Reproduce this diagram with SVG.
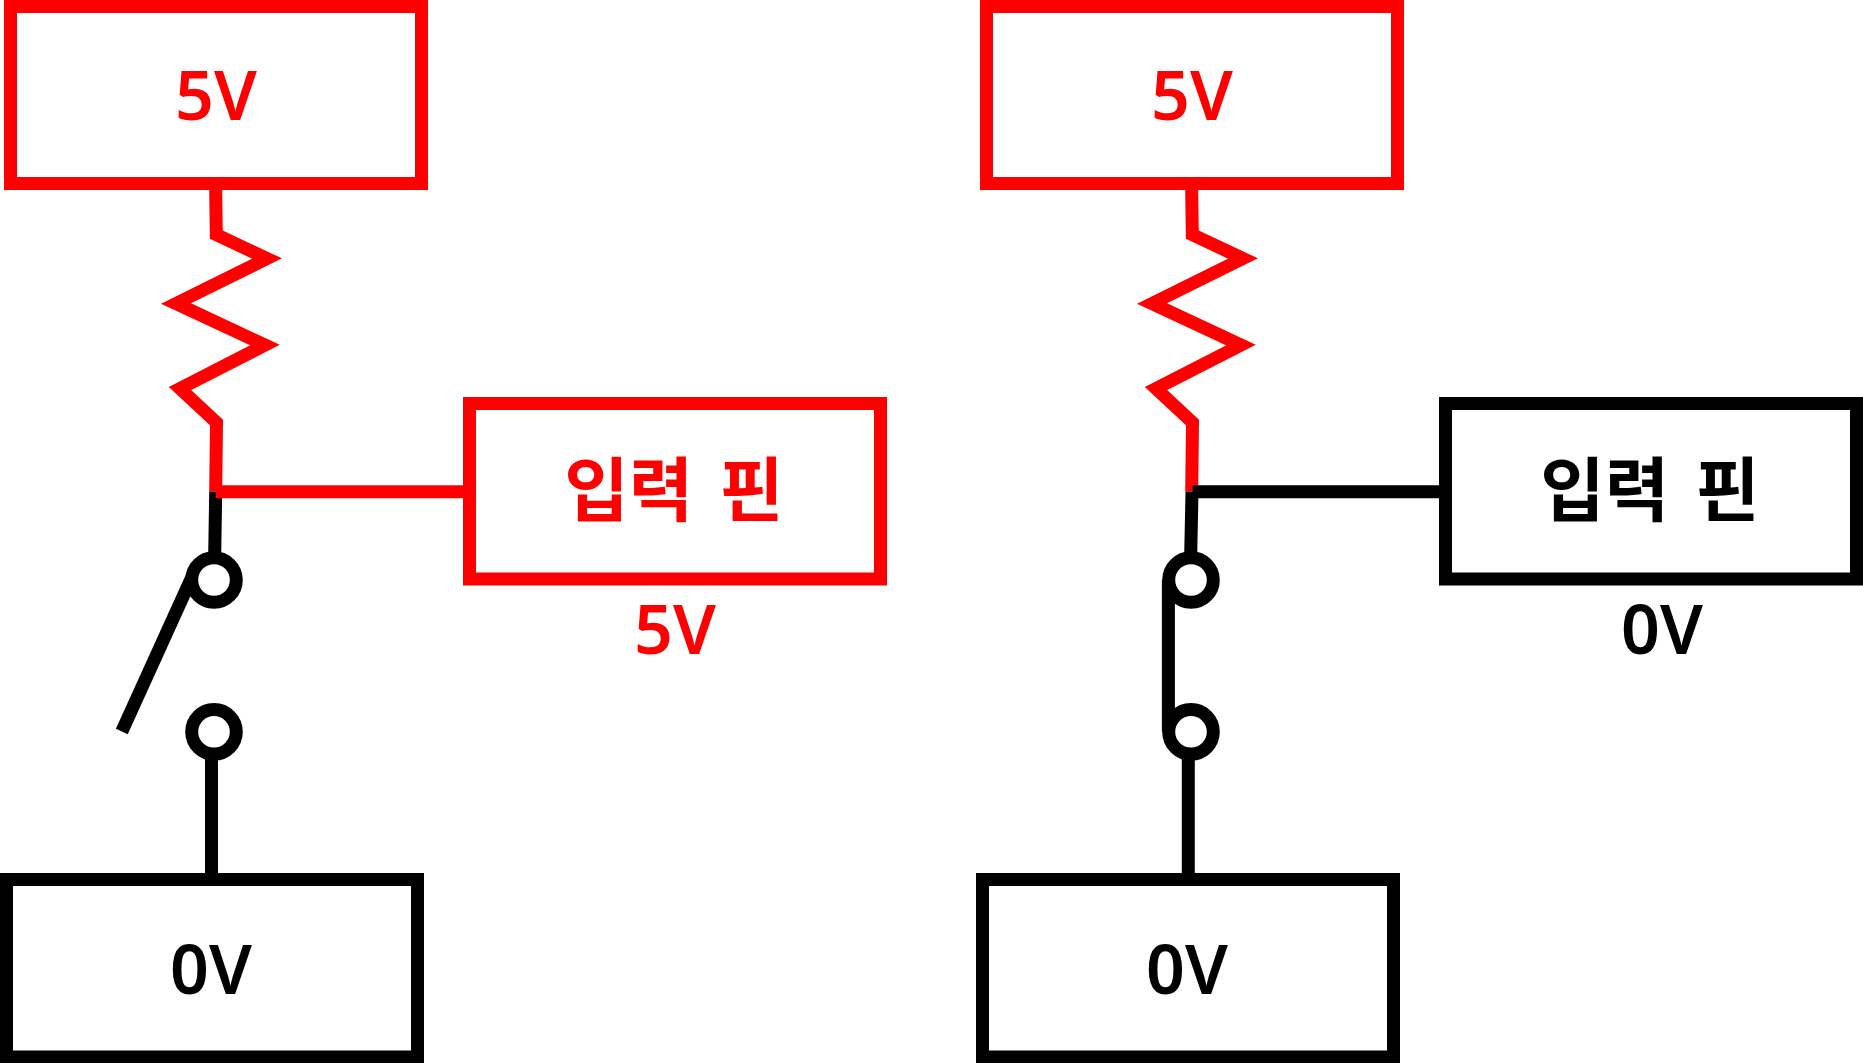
<svg xmlns="http://www.w3.org/2000/svg" width="1863" height="1063" viewBox="0 0 1863 1063">
<style>
.box{fill:#fff;stroke-width:13}
.r{stroke:#f00}.k{stroke:#000}
.w{fill:none;stroke-width:13;stroke-linecap:butt;stroke-linejoin:miter;stroke-miterlimit:10}
.t{stroke:#000;fill:#fff;stroke-width:13}
text{font-family:"Noto Sans","Noto Sans CJK KR",sans-serif;font-weight:650;font-size:68px;text-anchor:middle}
.ko{font-size:70px;word-spacing:8px}
.fr{fill:#f00}.fk{fill:#000}
</style>
<rect width="1863" height="1063" fill="#fff"/>
<g id="connectors">
<path class="w r" d="M215.7 190L216.3 234.7L267 258.5L176 303.5L265 345L180 388.5L216.5 422.5L215.7 491.7"/>
<path class="w k" d="M215.7 491.7L214.7 555"/>
<path class="w r" d="M215.7 491.7H464"/>
<path class="w k" d="M211.5 755V873"/>
<path class="w r" d="M1191.7 190L1192.3 234.7L1243 258.5L1152 303.5L1241 345L1156 388.5L1192.5 422.5L1191.7 491.7"/>
<path class="w k" d="M1192 491.7L1190.7 555"/>
<path class="w k" d="M1192.7 491.7H1440"/>
<path class="w k" d="M1188.3 755V873"/>
</g>
<g id="supply-5v-a"><rect class="box r" x="10.5" y="6.5" width="411" height="177"/><text class="fr" x="216" y="120">5V</text></g>
<g id="ground-0v-a"><rect class="box k" x="6.5" y="879.5" width="411" height="177.5"/><text class="fk" x="211" y="993.5">0V</text></g>
<g id="input-pin-a"><rect class="box r" x="469.5" y="403.5" width="411" height="175.5"/><text class="ko fr" x="674" y="516">입력 핀</text></g>
<g id="label-5v"><text class="fr" x="675" y="653.5">5V</text></g>
<g id="switch-a"><circle class="t" cx="214" cy="580" r="22.3"/><circle class="t" cx="214" cy="731.8" r="22.3"/><path class="w k" d="M121.8 731.5L191.5 578"/></g>
<g id="supply-5v-b"><rect class="box r" x="986.5" y="6.5" width="411" height="177"/><text class="fr" x="1192" y="120">5V</text></g>
<g id="ground-0v-b"><rect class="box k" x="982.5" y="879.5" width="411" height="177.5"/><text class="fk" x="1187" y="993.5">0V</text></g>
<g id="input-pin-b"><rect class="box k" x="1445.5" y="403.5" width="411" height="175.5"/><text class="ko fk" x="1650" y="516">입력 핀</text></g>
<g id="label-0v"><text class="fk" x="1662" y="653.5">0V</text></g>
<g id="switch-b"><circle class="t" cx="1191" cy="580" r="22.3"/><circle class="t" cx="1191" cy="731.8" r="22.3"/><path class="w k" d="M1168.4 580V731.8"/></g>
</svg>
